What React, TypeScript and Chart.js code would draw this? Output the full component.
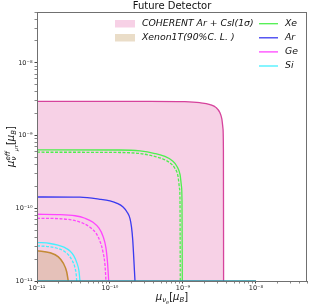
import React, { useEffect, useRef } from 'react';
import { Chart, registerables } from 'chart.js';

Chart.register(...registerables);

// ---- data ----
const cohX = [1e-11, 3.5e-10, 1.06e-9, 1.7e-9, 2.35e-9, 2.85e-9, 3.2e-9, 3.4e-9, 3.53e-9, 3.58e-9, 3.6e-9];
const cohY = [2.95e-9, 2.95e-9, 2.92e-9, 2.83e-9, 2.66e-9, 2.42e-9, 2.07e-9, 1.71e-9, 1.25e-9, 6.2e-10, 1e-11];

const xenonX = [1e-11, 1.51e-11, 1.96e-11, 2.29e-11, 2.55e-11, 2.68e-11];
const xenonY = [2.6e-11, 2.44e-11, 2.15e-11, 1.76e-11, 1.34e-11, 1e-11];

const xeX = [1e-11, 1.37e-10, 2.58e-10, 4.13e-10, 5.66e-10, 7.06e-10, 8.28e-10, 9.1e-10, 9.53e-10, 9.69e-10, 9.78e-10];
const xeY = [6.37e-10, 6.33e-10, 6.14e-10, 5.66e-10, 5.16e-10, 4.55e-10, 3.76e-10, 2.92e-10, 2.0e-10, 1.29e-10, 1e-11];
const xeDashX = [1e-11, 1.37e-10, 2.58e-10, 3.88e-10, 5.32e-10, 6.64e-10, 7.76e-10, 8.55e-10, 8.95e-10, 9.1e-10, 9.18e-10];
const xeDashY = [5.9e-10, 5.85e-10, 5.66e-10, 5.24e-10, 4.76e-10, 4.2e-10, 3.53e-10, 2.74e-10, 1.88e-10, 1.29e-10, 1e-11];

const arX = [1e-11, 3.88e-11, 7.29e-11, 1e-10, 1.25e-10, 1.51e-10, 1.71e-10, 1.88e-10, 1.97e-10, 2.05e-10, 2.16e-10, 2.2e-10];
const arY = [1.43e-10, 1.42e-10, 1.33e-10, 1.26e-10, 1.17e-10, 1.04e-10, 8.9e-11, 7.22e-11, 5.54e-11, 3.65e-11, 1.41e-11, 1e-11];

const geX = [1e-11, 2.07e-11, 3.32e-11, 4.54e-11, 5.85e-11, 7.07e-11, 8.02e-11, 8.81e-11, 9.24e-11, 9.6e-11];
const geY = [8.28e-11, 8.2e-11, 7.89e-11, 7.29e-11, 6.43e-11, 5.32e-11, 4.13e-11, 2.83e-11, 1.82e-11, 1e-11];
const geDashX = [1e-11, 2.07e-11, 3.11e-11, 4.27e-11, 5.32e-11, 6.43e-11, 7.29e-11, 8.02e-11, 8.54e-11, 8.81e-11];
const geDashY = [7.29e-11, 7.18e-11, 6.85e-11, 6.23e-11, 5.49e-11, 4.54e-11, 3.53e-11, 2.5e-11, 1.66e-11, 1e-11];

const siX = [1e-11, 1.51e-11, 1.94e-11, 2.34e-11, 2.83e-11, 3.21e-11, 3.53e-11, 3.76e-11, 3.88e-11];
const siY = [3.39e-11, 3.28e-11, 3.11e-11, 2.92e-11, 2.58e-11, 2.2e-11, 1.76e-11, 1.37e-11, 1e-11];
const siDashX = [1e-11, 1.51e-11, 1.94e-11, 2.34e-11, 2.74e-11, 3.06e-11, 3.32e-11, 3.45e-11, 3.5e-11];
const siDashY = [3.05e-11, 2.95e-11, 2.79e-11, 2.58e-11, 2.24e-11, 1.88e-11, 1.51e-11, 1.21e-11, 1e-11];

const baseX = [1e-11, 1e-8];
const baseY = [1e-11, 1e-11];

const majorTicks = [1e-11, 1e-10, 1e-9, 1e-8];
const tickLabels = ['10⁻¹¹', '10⁻¹⁰', '10⁻⁹', '10⁻⁸'];
const minorMultipliers = [2, 3, 4, 5, 6, 7, 8, 9];

const titleText = 'Future Detector';
const fillLabels = ['COHERENT Ar + CsI(1σ)', 'Xenon1T(90%C. L. )'];
const lineLabels = ['Xe', 'Ar', 'Ge', 'Si'];

// ---- styles ----
const C_COH_FILL = 'rgba(222, 70, 155, 0.25)';
const C_COH_EDGE = '#d6439c';
const C_XEN_FILL = 'rgba(200, 165, 110, 0.38)';
const C_XEN_EDGE = '#c38a35';
const C_XE = '#4ef04e';
const C_AR = '#3a3af0';
const C_GE = '#ff45ff';
const C_SI = '#45f0ff';
const C_BASE = '#2290a2';
const lineColors = [C_XE, C_AR, C_GE, C_SI];
const FONT = 'DejaVu Sans';

const pts = (xs: number[], ys: number[]) => xs.map((x, i) => ({ x, y: ys[i] }));

const buildTicks = (scale: any) => {
  const out: any[] = [];
  majorTicks.forEach((m) => {
    out.push({ value: m, major: true });
    minorMultipliers.forEach((k) => {
      const v = m * k;
      if (v <= scale.max) out.push({ value: v, major: false });
    });
  });
  scale.ticks = out.filter((t) => t.value >= scale.min && t.value <= scale.max);
};

const labelFor = (v: number) => {
  const idx = majorTicks.findIndex((m) => Math.abs(Math.log10(m) - Math.log10(v)) < 1e-6);
  return idx >= 0 ? tickLabels[idx] : '';
};

type Seg = { t: string; size: number; dy: number; italic?: boolean; back?: boolean };

const drawRich = (ctx: CanvasRenderingContext2D, segs: Seg[], cx: number, cy: number) => {
  const widths: number[] = [];
  segs.forEach((s) => {
    ctx.font = `${s.italic ? 'italic ' : ''}${s.size}px ${FONT}`;
    widths.push(ctx.measureText(s.t).width);
  });
  let x = 0;
  let stackStart = 0;
  let maxX = 0;
  segs.forEach((s, i) => {
    if (s.back) x = stackStart;
    else {
      x = Math.max(x, maxX);
      stackStart = x;
    }
    x += widths[i];
    maxX = Math.max(maxX, x);
  });
  const w = maxX;
  x = cx - w / 2;
  let sStart = x;
  let furthest = x;
  ctx.textBaseline = 'alphabetic';
  ctx.textAlign = 'left';
  segs.forEach((s, i) => {
    ctx.font = `${s.italic ? 'italic ' : ''}${s.size}px ${FONT}`;
    if (s.back) x = sStart;
    else {
      x = Math.max(x, furthest);
      sStart = x;
    }
    ctx.fillText(s.t, x, cy + s.dy);
    x += widths[i];
    furthest = Math.max(furthest, x);
  });
};

const decorPlugin = {
  id: 'decor',
  afterDraw(chart: any) {
    const { ctx, chartArea } = chart;
    const { left, right, top, bottom } = chartArea;
    ctx.save();
    // frame
    ctx.strokeStyle = '#707070';
    ctx.lineWidth = 1;
    ctx.strokeRect(left + 0.5, top + 0.5, right - left - 1, bottom - top);
    // title
    ctx.fillStyle = '#111';
    ctx.font = `10px ${FONT}`;
    ctx.textAlign = 'center';
    ctx.textBaseline = 'alphabetic';
    ctx.fillText(titleText, (left + right) / 2, top - 3);

    // x label: mu_{nu_e}[mu_B]
    drawRich(
      ctx,
      [
        { t: 'μ', size: 10, dy: 0, italic: true },
        { t: 'ν', size: 7, dy: 2, italic: true },
        { t: 'e', size: 5, dy: 4, italic: true },
        { t: '[', size: 10, dy: 0 },
        { t: 'μ', size: 10, dy: 0, italic: true },
        { t: 'B', size: 7, dy: 2, italic: true },
        { t: ']', size: 10, dy: 0 },
      ],
      (left + right) / 2,
      300
    );

    // y label (rotated)
    ctx.save();
    ctx.translate(14, (top + bottom) / 2);
    ctx.rotate(-Math.PI / 2);
    drawRich(
      ctx,
      [
        { t: 'μ', size: 10, dy: 0, italic: true },
        { t: 'eff', size: 7, dy: -4, italic: true },
        { t: 'ν', size: 7, dy: 2, italic: true, back: true },
        { t: 'μτ', size: 5, dy: 4, italic: true },
        { t: '[', size: 10, dy: 0 },
        { t: 'μ', size: 10, dy: 0, italic: true },
        { t: 'B', size: 7, dy: 2, italic: true },
        { t: ']', size: 10, dy: 0 },
      ],
      0,
      0
    );
    ctx.restore();

    // legend: fill patches
    const patchColors = [C_COH_FILL, C_XEN_FILL];
    ctx.font = `italic 9.3px ${FONT}`;
    ctx.textAlign = 'left';
    ctx.textBaseline = 'middle';
    fillLabels.forEach((lab, i) => {
      const y = 20 + i * 14;
      ctx.fillStyle = patchColors[i];
      ctx.fillRect(115, y, 20, 7.5);
      ctx.fillStyle = '#111';
      ctx.fillText(lab, 142, y + 4);
    });
    // legend: lines
    lineLabels.forEach((lab, i) => {
      const y = 23.7 + i * 14.1;
      ctx.strokeStyle = lineColors[i];
      ctx.lineWidth = 1.3;
      ctx.beginPath();
      ctx.moveTo(259, y);
      ctx.lineTo(278, y);
      ctx.stroke();
      ctx.fillStyle = '#111';
      ctx.fillText(lab, 285, y);
    });
    ctx.restore();
  },
};

export default function App() {
  const ref = useRef<HTMLCanvasElement | null>(null);

  useEffect(() => {
    if (!ref.current) return;
    const line = (data: any, color: string, order: number, dash?: number[]) => ({
      data,
      borderColor: color,
      backgroundColor: color,
      borderWidth: 1.3,
      borderDash: dash || [],
      showLine: true,
      pointRadius: 0,
      fill: false,
      cubicInterpolationMode: 'monotone',
      order,
    });

    const chart = new Chart(ref.current, {
      type: 'scatter',
      data: {
        datasets: [
          line(pts(xeX, xeY), C_XE, 1),
          line(pts(xeDashX, xeDashY), C_XE, 1, [3, 1.5]),
          line(pts(arX, arY), C_AR, 1),
          line(pts(geX, geY), C_GE, 1),
          line(pts(geDashX, geDashY), C_GE, 1, [3, 1.5]),
          line(pts(siX, siY), C_SI, 1),
          line(pts(siDashX, siDashY), C_SI, 1, [3, 1.5]),
          { ...line(pts(baseX, baseY), C_BASE, 0), clip: false, borderWidth: 1.5 },
          {
            data: pts(xenonX, xenonY),
            borderColor: C_XEN_EDGE,
            backgroundColor: C_XEN_FILL,
            borderWidth: 1.5,
            showLine: true,
            pointRadius: 0,
            fill: 'start',
            cubicInterpolationMode: 'monotone',
            order: 9,
          },
          {
            data: pts(cohX, cohY),
            borderColor: C_COH_EDGE,
            backgroundColor: C_COH_FILL,
            borderWidth: 1.3,
            showLine: true,
            pointRadius: 0,
            fill: 'start',
            cubicInterpolationMode: 'monotone',
            order: 10,
          },
        ] as any,
      },
      options: {
        animation: false,
        responsive: false,
        devicePixelRatio: 1,
        layout: { padding: { top: 12, right: 3, left: 0, bottom: 0 } },
        plugins: { legend: { display: false }, tooltip: { enabled: false }, title: { display: false } },
        scales: {
          x: {
            type: 'logarithmic',
            min: 1e-11,
            max: 5e-8,
            afterBuildTicks: buildTicks,
            afterFit: (s: any) => {
              s.height = 24;
            },
            ticks: {
              autoSkip: false,
              maxRotation: 0,
              padding: 1,
              color: '#222',
              font: { family: FONT, size: 6.5 },
              callback: (v: any) => labelFor(Number(v)),
            },
            grid: {
              drawOnChartArea: false,
              drawTicks: true,
              tickLength: 2.5,
              tickColor: (c: any) => (c.tick && c.tick.major ? '#444' : '#888'),
            },
            border: { display: true, color: '#707070' },
          },
          y: {
            type: 'logarithmic',
            min: 1e-11,
            max: 5e-8,
            afterBuildTicks: buildTicks,
            afterFit: (s: any) => {
              s.width = 37;
            },
            ticks: {
              autoSkip: false,
              padding: 2,
              color: '#222',
              font: { family: FONT, size: 6.5 },
              callback: (v: any) => labelFor(Number(v)),
            },
            grid: {
              drawOnChartArea: false,
              drawTicks: true,
              tickLength: 2.5,
              tickColor: (c: any) => (c.tick && c.tick.major ? '#444' : '#888'),
            },
            border: { display: true, color: '#707070' },
          },
        },
      } as any,
      plugins: [decorPlugin],
    });
    return () => chart.destroy();
  }, []);

  return (
    <div style={{ position: 'fixed', left: 0, top: 0, width: 310, height: 305, background: '#fff' }}>
      <canvas ref={ref} width={310} height={305} />
    </div>
  );
}
